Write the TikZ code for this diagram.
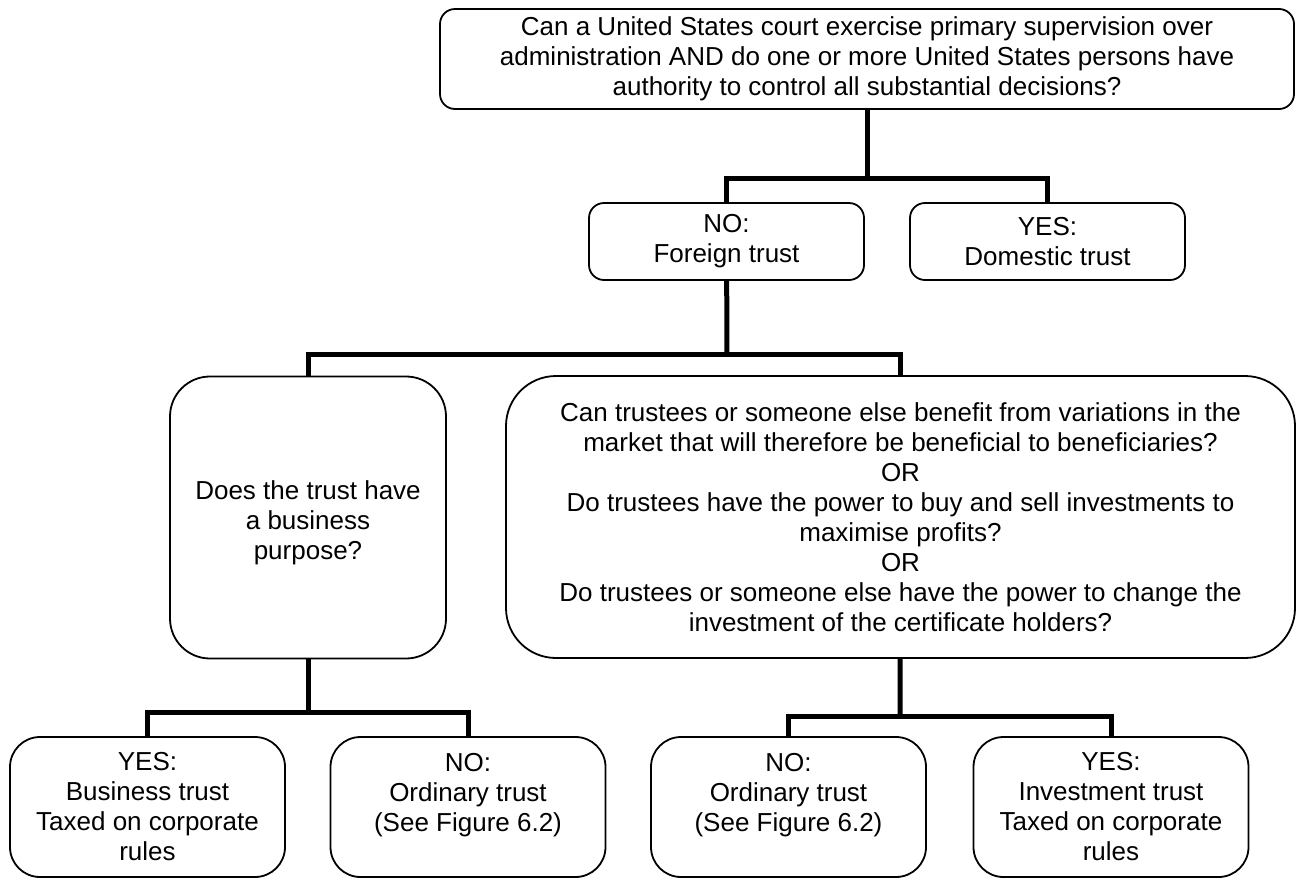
\documentclass[tikz,border=0pt]{standalone}
\usepackage{fontspec}
\setmainfont{Liberation Sans}
\usepackage{tikz}
\usetikzlibrary{calc,positioning}
\tikzset{%
	box/.style      = {draw, rounded corners=15pt, line width=1.8pt, align=center, inner sep=0pt, font=\fontsize{26}{30}\selectfont}, % Question or answer
	smallbox/.style = {box, minimum width=275pt, minimum height=77pt}, % Answer
	leafbox/.style  = {box, rounded corners=30pt, minimum width=275pt, minimum height=140pt}, % Outcome
	bigbox/.style   = {box, minimum height=282pt}, % Question
	link/.style     = {line width=5pt}, % Connector
	waypoint/.style = {coordinate}, % Junction
}

\begin{document}
\begin{tikzpicture}[x=1pt, y=-1pt]
		\useasboundingbox (0,0) rectangle (1296,879);
		\node[box, minimum width=854pt, minimum height=100pt] (q1) at (867,59) {Can a United States court exercise primary supervision over\\administration AND do one or more United States persons have\\authority to control all substantial decisions?};
		\node[smallbox] (no1) at (726.5,241.5) {NO:\\Foreign trust};
		\node[smallbox] (yes1) at (1047.5,241.5) {YES:\\Domestic trust};
		\node[bigbox, rounded corners=40pt, minimum width=276pt] (q2) at (308,517.5) {~\\Does the trust have\\a business\\purpose?};
		\node[bigbox, rounded corners=50pt, minimum width=789pt] (q3) at (900.5,517) {Can trustees or someone else benefit from variations in the\\market that will therefore be beneficial to beneficiaries?\\OR\\Do trustees have the power to buy and sell investments to\\maximise profits?\\OR\\Do trustees or someone else have the power to change the\\investment of the certificate holders?};
		\node[leafbox] (yes2) at (147.5,807) {YES:\\Business trust\\Taxed on corporate\\rules};
		\node[leafbox] (no2) at (468,807) {NO:\\Ordinary trust\\(See Figure 6.2)\\~};
		\node[leafbox] (no3) at (788.5,807) {NO:\\Ordinary trust\\(See Figure 6.2)\\~};
		\node[leafbox] (yes3) at (1111,807) {YES:\\Investment trust\\Taxed on corporate\\rules};
		\node[waypoint] (wp1) at (867,178) {};
		\node[waypoint] (wp2) at (727,354) {};
		\node[waypoint] (wp3) at (308,712) {};
		\node[waypoint] (wp4) at (900,716) {};
		\draw[link] (q1) -- (wp1);
		\draw[link] (no1) |- (wp1) -| (yes1);
		\draw[link] (no1) -- (wp2);
		\draw[link] (q2) |- (wp2) -| (q3);
		\draw[link] (q2) -- (wp3);
		\draw[link] (yes2) |- (wp3) -| (no2);
		\draw[link] (q3) -- (wp4);
		\draw[link] (no3) |- (wp4) -| (yes3);
\end{tikzpicture}
\end{document}
